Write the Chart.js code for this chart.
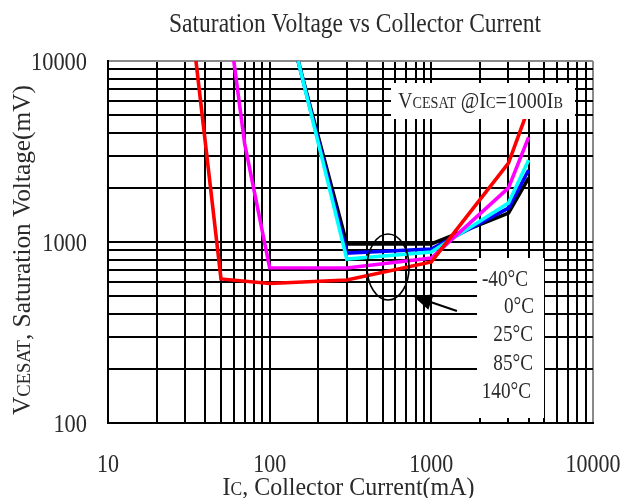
<!DOCTYPE html>
<html>
<head>
<meta charset="utf-8">
<script src="https://cdn.jsdelivr.net/npm/chart.js@4.4.0/dist/chart.umd.min.js"></script>
<style>
  html, body { margin: 0; background: #fff; }
  #wrap { width: 624px; height: 498px; }
</style>
</head>
<body>
<div id="wrap"><canvas id="chart" width="624" height="498"></canvas></div>
<script>
// Ic (mA) / Vce(sat) (mV) per temperature
const ic140 = [35, 50, 100, 300, 1000, 3000, 4000];
const vce140 = [10000, 625, 590, 617, 776, 2730, 5500];
const ic85 = [60, 70, 100, 300, 1000, 3000, 4000];
const vce85 = [10000, 3500, 720, 718, 816, 1990, 3800];
const ic25 = [150, 300, 1000, 3000, 4000];
const vce25 = [10000, 805, 880, 1640, 2840];
const ic0 = [150, 300, 1000, 3000, 4000];
const vce0 = [10000, 869, 915, 1540, 2500];
const icM40 = [150, 300, 1000, 3000, 4000];
const vceM40 = [10000, 975, 975, 1445, 2260];

const tempLabels = ["-40°C", "0°C", "25°C", "85°C", "140°C"];

const xTicks = [10, 20, 30, 40, 50, 60, 70, 80, 90,
                100, 200, 300, 400, 500, 600, 700, 800, 900,
                1000, 2000, 3000, 4000, 5000, 6000, 7000, 8000, 9000, 10000];
const yTicks = [100, 200, 300, 400, 500, 600, 700, 800, 900,
                1000, 2000, 3000, 4000, 5000, 6000, 7000, 8000, 9000, 10000];
const xTickLabels = [10, 100, 1000, 10000];
const yTickLabels = [100, 1000, 10000];

const SERIF = '"Liberation Serif", "DejaVu Serif", serif';
const TEXT = "#2a2a2a";

const toPoints = (xs, ys) => xs.map((x, i) => ({ x: x, y: ys[i] }));

const series = (pts, color) => ({
    data: pts,
    borderColor: color,
    borderWidth: 3.6,
    pointRadius: 0,
    tension: 0,
    fill: false,
    borderJoinStyle: "miter"
});

// draws a run of mixed-size text squeezed to a given width
const drawRich = (ctx, parts, x, y, align, width) => {
    let total = 0;
    parts.forEach(p => {
        ctx.font = `${p[1]}px ${SERIF}`;
        total += ctx.measureText(p[0]).width;
    });
    const s = width / total;
    ctx.save();
    ctx.translate(x, y);
    ctx.scale(s, 1);
    let cx = align === "right" ? -total : align === "center" ? -total / 2 : 0;
    ctx.textAlign = "left";
    ctx.textBaseline = "alphabetic";
    parts.forEach(p => {
        ctx.font = `${p[1]}px ${SERIF}`;
        ctx.fillText(p[0], cx, 0);
        cx += ctx.measureText(p[0]).width;
    });
    ctx.restore();
};

const decorations = {
    id: "decorations",
    afterDatasetsDraw(chart) {
        const ctx = chart.ctx;
        const xs = chart.scales.x, ys = chart.scales.y;
        ctx.save();

        // condition box
        ctx.fillStyle = "#fff";
        ctx.fillRect(391, 83, 184, 36);
        ctx.fillStyle = TEXT;
        drawRich(ctx, [["V", 24], ["CESAT", 17], [" @", 24], ["I", 24], ["C", 17], ["=1000", 24], ["I", 24], ["B", 17]],
            398, 108, "left", 165);

        // temperature list
        ctx.fillStyle = "#fff";
        ctx.fillRect(477, 258, 67, 160);
        ctx.fillStyle = TEXT;
        const tempY = [278, 305, 333, 362, 390];
        const tempRight = [528, 534, 533, 533, 531];
        tempLabels.forEach((t, i) => {
            ctx.save();
            ctx.translate(tempRight[i], tempY[i] + 8);
            ctx.scale(0.8, 1);
            ctx.font = `24px ${SERIF}`;
            ctx.textAlign = "right";
            ctx.fillText(t, 0, 0);
            ctx.restore();
        });

        // ellipse around the low-current region
        ctx.strokeStyle = "#000";
        ctx.lineWidth = 1.6;
        ctx.beginPath();
        ctx.ellipse(xs.getPixelForValue(540), ys.getPixelForValue(728), 21, 33, 0, 0, Math.PI * 2);
        ctx.stroke();

        // arrow pointing at it
        const tx = xs.getPixelForValue(770), ty = ys.getPixelForValue(503);
        const fx = xs.getPixelForValue(1440), fy = ys.getPixelForValue(416);
        const ang = Math.atan2(ty - fy, tx - fx);
        ctx.lineWidth = 2;
        ctx.beginPath();
        ctx.moveTo(fx, fy);
        ctx.lineTo(tx - Math.cos(ang) * 10, ty - Math.sin(ang) * 10);
        ctx.stroke();
        ctx.fillStyle = "#000";
        ctx.beginPath();
        ctx.moveTo(tx, ty);
        ctx.lineTo(tx - Math.cos(ang) * 19 + Math.sin(ang) * 8, ty - Math.sin(ang) * 19 - Math.cos(ang) * 8);
        ctx.lineTo(tx - Math.cos(ang) * 19 - Math.sin(ang) * 8, ty - Math.sin(ang) * 19 + Math.cos(ang) * 8);
        ctx.closePath();
        ctx.fill();
        ctx.restore();
    },
    afterDraw(chart) {
        const ctx = chart.ctx;
        const xs = chart.scales.x, ys = chart.scales.y;
        const area = chart.chartArea;
        ctx.save();
        ctx.fillStyle = TEXT;
        ctx.textBaseline = "alphabetic";

        // title
        ctx.font = `27px ${SERIF}`;
        ctx.textAlign = "left";
        ctx.fillText("Saturation Voltage vs Collector Current", 169, 32, 372);

        // tick labels
        ctx.font = `26px ${SERIF}`;
        ctx.textAlign = "center";
        xTickLabels.forEach(v => {
            const s = String(v);
            ctx.fillText(s, xs.getPixelForValue(v), 472, s.length * 11);
        });
        ctx.textAlign = "right";
        yTickLabels.forEach(v => {
            const s = String(v);
            ctx.fillText(s, 87, ys.getPixelForValue(v) + 9, s.length * 11.2);
        });

        // axis titles
        drawRich(ctx, [["I", 26], ["C", 19], [", Collector Current(mA)", 26]],
            (area.left + area.right) / 2 - 2, 495, "center", 252);

        ctx.save();
        ctx.translate(30, 250);
        ctx.rotate(-Math.PI / 2);
        drawRich(ctx, [["V", 26], ["CESAT", 19], [", Saturation Voltage(mV)", 26]], 0, 0, "center", 330);
        ctx.restore();
        ctx.restore();
    }
};

const gridColor = (edge) => (c) => c.tick && c.tick.value === edge ? "#8a8a8a" : "#000";

new Chart(document.getElementById("chart"), {
    type: "line",
    data: {
        datasets: [
            series(toPoints(ic140, vce140), "#ff0000"),
            series(toPoints(ic85, vce85), "#ff00ff"),
            series(toPoints(ic25, vce25), "#00ffff"),
            series(toPoints(ic0, vce0), "#0000ff"),
            series(toPoints(icM40, vceM40), "#000000")
        ]
    },
    options: {
        responsive: false,
        animation: false,
        devicePixelRatio: 1,
        layout: { padding: { top: 61, right: 31, left: 0, bottom: 0 } },
        plugins: {
            legend: { display: false },
            title: { display: false },
            tooltip: { enabled: false }
        },
        scales: {
            x: {
                type: "logarithmic",
                min: 10,
                max: 10000,
                afterBuildTicks: (scale) => { scale.ticks = xTicks.map(v => ({ value: v })); },
                afterFit: (scale) => { scale.height = 75; },
                ticks: { display: false },
                grid: { color: gridColor(10000), lineWidth: 2, drawTicks: false },
                border: { color: "#000", width: 2 }
            },
            y: {
                type: "logarithmic",
                min: 100,
                max: 10000,
                afterBuildTicks: (scale) => { scale.ticks = yTicks.map(v => ({ value: v })); },
                afterFit: (scale) => { scale.width = 108; },
                ticks: { display: false },
                grid: { color: gridColor(10000), lineWidth: 2, drawTicks: false },
                border: { color: "#000", width: 2 }
            }
        }
    },
    plugins: [decorations]
});
</script>
</body>
</html>
